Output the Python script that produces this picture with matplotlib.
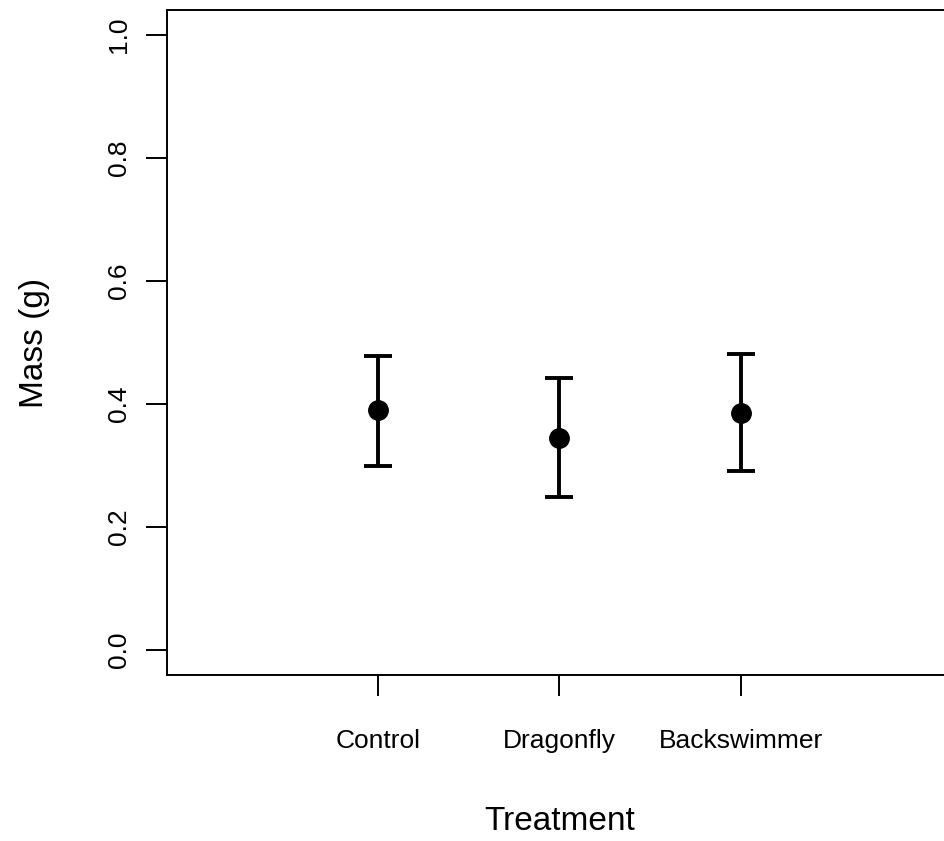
import matplotlib
matplotlib.use("Agg")
import matplotlib.pyplot as plt

plt.rcParams["font.family"] = ["Liberation Sans", "DejaVu Sans"]

# treatment means and error bar limits (g)
treatments = ["Control", "Dragonfly", "Backswimmer"]
positions = [1, 2, 3]
means = [0.390, 0.344, 0.386]
upper = [0.478, 0.443, 0.481]
lower = [0.300, 0.249, 0.291]
yticks = [0.0, 0.2, 0.4, 0.6, 0.8, 1.0]

W, H = 944, 841
fig = plt.figure(figsize=(W / 100, H / 100), dpi=100)

# R-style plot region: xlim c(0,4), ylim c(0,1) with 4% padding
left, right, top, bottom = 167, 951.5, 10.4, 674.6
ax = fig.add_axes([left / W, 1 - bottom / H, (right - left) / W, (bottom - top) / H])
ax.set_xlim(-0.16, 4.16)
ax.set_ylim(-0.04, 1.04)

err_lo = [m - l for m, l in zip(means, lower)]
err_hi = [u - m for m, u in zip(means, upper)]
ax.errorbar(positions, means, yerr=[err_lo, err_hi], fmt="o", color="black",
            markersize=14, elinewidth=2.8, capsize=10, capthick=2.8)

for s in ax.spines.values():
    s.set_linewidth(1.4)

ax.set_xticks(positions)
ax.set_xticklabels(treatments, fontsize=19)
ax.set_yticks(yticks)
ax.set_yticklabels([f"{v:.1f}" for v in yticks], fontsize=19, rotation=90, va="center")
ax.tick_params(axis="x", length=15, width=1.4, pad=24)
ax.tick_params(axis="y", length=15, width=1.4, pad=11)

ax.set_xlabel("Treatment", fontsize=24, labelpad=38)
ax.set_ylabel("Mass (g)", fontsize=24, labelpad=41)

fig.savefig("out.png", dpi=100, facecolor="white")
